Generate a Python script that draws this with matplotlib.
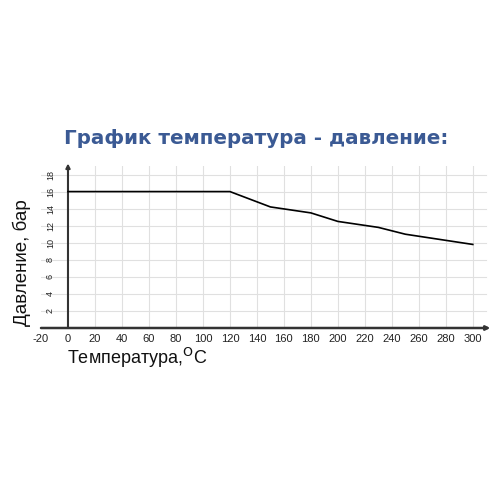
import matplotlib
matplotlib.use('Agg')
import matplotlib.pyplot as plt

# temperature (C) -> pressure (bar)
temperature = [0, 120, 150, 180, 200, 230, 250, 300]
pressure = [16, 16, 14.2, 13.5, 12.5, 11.8, 11.0, 9.8]

x_ticks = list(range(-20, 301, 20))
y_ticks = list(range(2, 19, 2))

title = "График температура - давление:"
x_label = "Температура,$^{\\mathrm{O}}$C"
y_label = "Давление, бар"

plt.rcParams['font.family'] = ['Liberation Sans', 'DejaVu Sans']

fig = plt.figure(figsize=(5, 5), dpi=100)
fig.patch.set_facecolor('white')
ax = fig.add_axes([41 / 500, 1 - 328 / 500, 448 / 500, 162 / 500])
ax.set_xlim(-20, 312)
ax.set_ylim(0, 19)

# light grid
for yv in y_ticks:
    ax.plot([-20, 310], [yv, yv], color='#e0e0e0', lw=0.8, zorder=1)
for xv in x_ticks:
    if xv > 0:
        ax.plot([xv, xv], [0, 19], color='#e0e0e0', lw=0.8, zorder=1)

# axes with arrows
ax.annotate('', xy=(313, 0), xytext=(-20, 0), annotation_clip=False,
            arrowprops=dict(arrowstyle='-|>', color='#333333', lw=1.8,
                            mutation_scale=6, shrinkA=0, shrinkB=0), zorder=3)
ax.annotate('', xy=(0, 19.3), xytext=(0, 0), annotation_clip=False,
            arrowprops=dict(arrowstyle='-|>', color='#333333', lw=1.5,
                            mutation_scale=6, shrinkA=0, shrinkB=0), zorder=3)

ax.plot(temperature, pressure, color='black', lw=1.2, zorder=4)

for s in ax.spines.values():
    s.set_visible(False)
ax.set_xticks(x_ticks)
ax.set_xticklabels([str(v) for v in x_ticks], fontsize=8, color='#222222')
ax.set_yticks(y_ticks)
ax.set_yticklabels([str(v) for v in y_ticks], fontsize=6.5, color='#222222',
                   rotation=90, va='center')
ax.tick_params(axis='x', length=0, pad=4)
ax.tick_params(axis='y', length=0, pad=-10)

fig.text(0.513, 1 - 138 / 500, title, fontsize=14.3, fontweight='bold',
         color='#3b5a94', ha='center', va='center', family='DejaVu Sans')
fig.text(67 / 500, 1 - 358 / 500, x_label, fontsize=13, ha='left', va='center',
         color='#111111')
fig.text(22 / 500, 1 - 263 / 500, y_label, fontsize=13.5, rotation=90,
         ha='center', va='center', color='#111111')

fig.savefig('out.png', dpi=100, facecolor='white')
